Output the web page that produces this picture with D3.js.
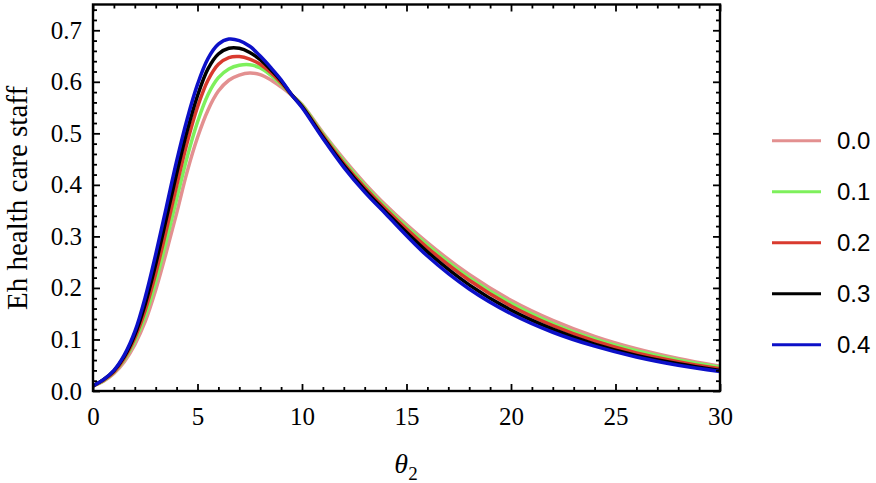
<!DOCTYPE html>
<html>
<head>
<meta charset="utf-8">
<script src="https://cdn.jsdelivr.net/npm/d3@7"></script>
<style>
  body { margin: 0; background: #fff; }
  svg { display: block; }
</style>
</head>
<body>
<script>
// theta_2 sample points
let thetaValues = [0, 0.5, 1, 1.5, 2, 2.5, 3, 3.5, 4, 4.5, 5, 5.5, 6, 6.5, 7, 7.5, 8, 8.5, 9, 9.5, 10, 11, 12, 13, 14, 16, 18, 20, 22, 24, 26, 28, 30];

// Eh health care staff, one array per parameter value
let eh00 = [0.010, 0.019, 0.034, 0.057, 0.090, 0.135, 0.196, 0.268, 0.345, 0.425, 0.492, 0.545, 0.582, 0.603, 0.613, 0.617, 0.614, 0.604, 0.590, 0.574, 0.556, 0.501, 0.450, 0.403, 0.361, 0.288, 0.226, 0.176, 0.137, 0.106, 0.082, 0.063, 0.048];
let eh01 = [0.010, 0.020, 0.036, 0.061, 0.097, 0.146, 0.212, 0.290, 0.372, 0.453, 0.522, 0.575, 0.608, 0.625, 0.632, 0.633, 0.627, 0.613, 0.595, 0.575, 0.555, 0.499, 0.446, 0.399, 0.357, 0.283, 0.220, 0.170, 0.131, 0.101, 0.078, 0.060, 0.046];
let eh02 = [0.010, 0.021, 0.037, 0.064, 0.103, 0.157, 0.228, 0.311, 0.398, 0.481, 0.551, 0.603, 0.634, 0.647, 0.649, 0.644, 0.634, 0.618, 0.598, 0.575, 0.553, 0.496, 0.442, 0.395, 0.353, 0.278, 0.215, 0.165, 0.127, 0.097, 0.074, 0.057, 0.043];
let eh03 = [0.010, 0.022, 0.039, 0.067, 0.109, 0.169, 0.246, 0.333, 0.422, 0.504, 0.573, 0.625, 0.654, 0.665, 0.665, 0.657, 0.643, 0.624, 0.602, 0.575, 0.552, 0.493, 0.438, 0.390, 0.348, 0.270, 0.206, 0.157, 0.120, 0.091, 0.069, 0.053, 0.040];
let eh04 = [0.010, 0.022, 0.040, 0.070, 0.115, 0.182, 0.265, 0.355, 0.446, 0.527, 0.595, 0.645, 0.673, 0.683, 0.680, 0.669, 0.650, 0.628, 0.604, 0.575, 0.550, 0.490, 0.434, 0.386, 0.344, 0.262, 0.198, 0.150, 0.114, 0.087, 0.066, 0.050, 0.038];

let seriesNames = ["0.0", "0.1", "0.2", "0.3", "0.4"];
let seriesValues = [eh00, eh01, eh02, eh03, eh04];
let seriesColors = ["#e39090", "#7ef05c", "#d93a2e", "#000000", "#0c10c8"];

let xTicks = [0, 5, 10, 15, 20, 25, 30];
let yTicks = [0, 0.1, 0.2, 0.3, 0.4, 0.5, 0.6, 0.7];

let width = 876, height = 483;
let plotLeft = 93, plotRight = 720, plotTop = 4.5, plotBottom = 391;

let svg = d3.select("body").append("svg")
    .attr("width", width)
    .attr("height", height);

let x = d3.scaleLinear().domain([0, 30]).range([plotLeft, plotRight]);
let y = d3.scaleLinear().domain([0, 0.75]).range([plotBottom, plotTop]);

let serif = "'Liberation Serif', 'DejaVu Serif', serif";
let sans = "'Liberation Sans', Arial, sans-serif";

// curves
let line = d3.line()
    .x(function(d) { return x(d[0]); })
    .y(function(d) { return y(d[1]); })
    .curve(d3.curveCatmullRom.alpha(0.5));

seriesValues.forEach(function(vals, i) {
    svg.append("path")
        .datum(thetaValues.map(function(t, j) { return [t, vals[j]]; }))
        .attr("fill", "none")
        .attr("stroke", seriesColors[i])
        .attr("stroke-width", 3.5)
        .attr("stroke-linejoin", "round")
        .attr("d", line);
});

// minor ticks
let xMinor = d3.range(0, 31, 1).filter(function(v) { return v % 5 !== 0; });
let yMinor = d3.range(0, 0.751, 0.02).filter(function(v) { return Math.abs(v * 10 - Math.round(v * 10)) > 0.01; });

function axisStyle(g) {
    g.select(".domain").remove();
    g.selectAll("line").attr("stroke", "#000").attr("stroke-width", 1.8);
}

svg.append("g").attr("transform", "translate(0," + plotBottom + ")")
    .call(d3.axisBottom(x).tickValues(xMinor).tickSize(-4).tickFormat(""))
    .call(axisStyle);
svg.append("g").attr("transform", "translate(0," + plotTop + ")")
    .call(d3.axisTop(x).tickValues(xMinor).tickSize(-4).tickFormat(""))
    .call(axisStyle);
svg.append("g").attr("transform", "translate(0," + plotTop + ")")
    .call(d3.axisTop(x).tickValues(xTicks).tickSize(-7).tickFormat(""))
    .call(axisStyle);
svg.append("g").attr("transform", "translate(" + plotLeft + ",0)")
    .call(d3.axisLeft(y).tickValues(yMinor).tickSize(-4).tickFormat(""))
    .call(axisStyle);
svg.append("g").attr("transform", "translate(" + plotRight + ",0)")
    .call(d3.axisRight(y).tickValues(yMinor).tickSize(-4).tickFormat(""))
    .call(axisStyle);
svg.append("g").attr("transform", "translate(" + plotRight + ",0)")
    .call(d3.axisRight(y).tickValues(yTicks).tickSize(-7).tickFormat(""))
    .call(axisStyle);

// labelled axes
let xAxis = svg.append("g").attr("transform", "translate(0," + plotBottom + ")")
    .call(d3.axisBottom(x).tickValues(xTicks).tickSize(-7).tickPadding(16).tickFormat(d3.format("d")))
    .call(axisStyle);
xAxis.selectAll("text").attr("font-family", serif).attr("font-size", 25).attr("fill", "#000");

let yAxis = svg.append("g").attr("transform", "translate(" + plotLeft + ",0)")
    .call(d3.axisLeft(y).tickValues(yTicks).tickSize(-7).tickPadding(11).tickFormat(d3.format(".1f")))
    .call(axisStyle);
yAxis.selectAll("text").attr("font-family", serif).attr("font-size", 25).attr("fill", "#000");

// frame
svg.append("rect")
    .attr("x", plotLeft).attr("y", plotTop)
    .attr("width", plotRight - plotLeft).attr("height", plotBottom - plotTop)
    .attr("fill", "none")
    .attr("stroke", "#000")
    .attr("stroke-width", 2.4);

// axis titles
svg.append("text")
    .attr("transform", "translate(27,198) rotate(-90)")
    .attr("text-anchor", "middle")
    .attr("font-family", serif)
    .attr("font-size", 29)
    .text("Eh health care staff");

let xt = svg.append("text")
    .attr("x", 406).attr("y", 473)
    .attr("text-anchor", "middle")
    .attr("font-family", serif)
    .attr("font-size", 28);
xt.append("tspan").attr("font-style", "italic").text("θ");
xt.append("tspan").attr("font-size", 19).attr("dy", 7).text("2");

// legend
let legend = svg.selectAll(".legend")
    .data(seriesNames)
    .enter().append("g")
    .attr("class", "legend")
    .attr("transform", function(d, i) { return "translate(772," + (140.7 + i * 51) + ")"; });

legend.append("line")
    .attr("x1", 0).attr("x2", 49)
    .attr("stroke", function(d, i) { return seriesColors[i]; })
    .attr("stroke-width", 3);

legend.append("text")
    .attr("x", 65).attr("y", 8.5)
    .attr("font-family", sans)
    .attr("font-size", 24)
    .text(function(d) { return d; });
</script>
</body>
</html>
